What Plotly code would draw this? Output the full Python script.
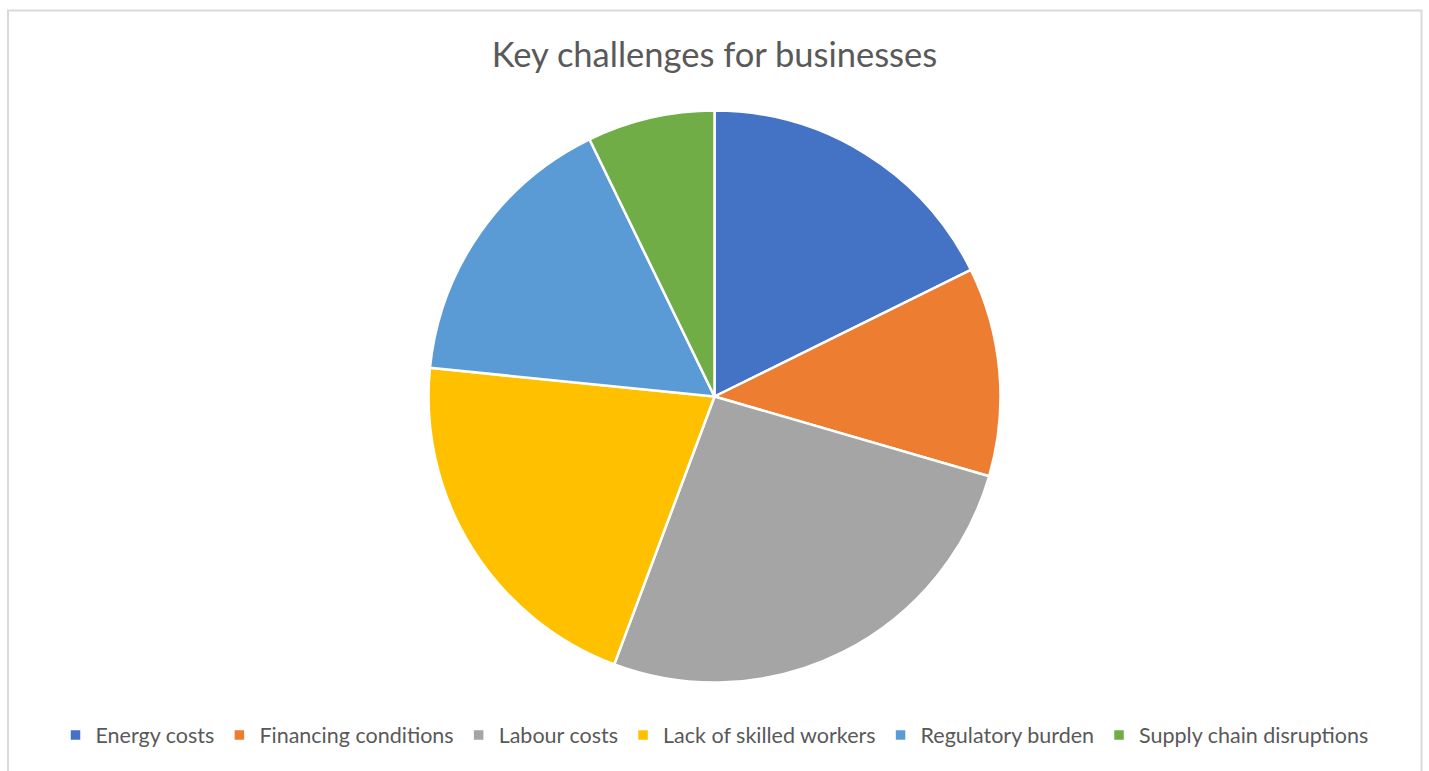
import plotly.graph_objects as go

categories = ["Energy costs", "Financing conditions", "Labour costs",
              "Lack of skilled workers", "Regulatory burden", "Supply chain disruptions"]
values = [17.7, 11.8, 26.2, 20.9, 16.2, 7.2]
colors = ["#4472C4", "#ED7D31", "#A5A5A5", "#FFC000", "#5B9BD5", "#70AD47"]

W, H = 1429, 771
cx, cy, r = 715, 396.5, 286

fig = go.Figure(go.Pie(
    labels=categories, values=values, sort=False, direction="clockwise",
    rotation=0, textinfo="none", hoverinfo="label+percent",
    marker=dict(colors=colors, line=dict(color="white", width=2.5)),
    domain=dict(x=[0, 1], y=[(H - cy - r) / H, (H - cy + r) / H]),
))

fig.update_layout(
    width=W, height=H, margin=dict(l=0, r=0, t=0, b=0),
    paper_bgcolor="white", plot_bgcolor="white",
    font=dict(family="Lato, Open Sans, sans-serif", color="#595959"),
    title=dict(text="Key challenges for businesses", x=0.5, xanchor="center",
               y=1 - 55 / H, yanchor="middle",
               font=dict(size=34.5, color="#595959", family="Lato, Open Sans, sans-serif")),
    legend=dict(orientation="h", x=0.5, xanchor="center", y=1 - 735 / H, yanchor="middle",
                font=dict(size=21.5, color="#595959"), traceorder="normal",
                itemclick=False),
    shapes=[dict(type="rect", xref="paper", yref="paper",
                 x0=8 / W, x1=1421.5 / W, y0=-0.05, y1=1 - 10.5 / H,
                 line=dict(color="#D9D9D9", width=2), fillcolor="rgba(0,0,0,0)", layer="below")],
)

fig.write_html("out.html")
